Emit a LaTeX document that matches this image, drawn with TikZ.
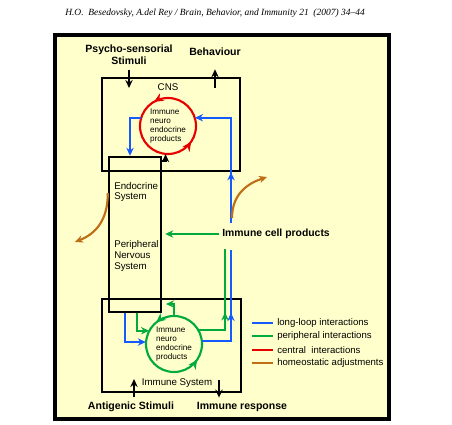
\documentclass[tikz,border=0pt]{standalone}
\usepackage{fontspec}
\setmainfont{Liberation Sans}
\newfontfamily\journalfont{Liberation Serif}
\usetikzlibrary{arrows.meta,positioning,decorations.markings}
\definecolor{paper}{RGB}{255,255,204}
\definecolor{loopblue}{RGB}{20,90,255}
\definecolor{periphgreen}{RGB}{0,170,60}
\definecolor{centralred}{RGB}{230,0,0}
\definecolor{homeobrown}{RGB}{190,110,20}

\begin{document}
\begin{tikzpicture}[x=0.75pt, y=-0.75pt, >={Stealth[length=6pt,width=5.5pt]},
    every node/.style={font=\fontsize{7.3}{8}\selectfont}]

    % Styles for boxes, product circles and the four kinds of interaction
    \tikzset{
        systembox/.style={draw=black, line width=1.8pt, inner sep=0pt},
        productcircle/.style={circle, minimum size=42pt, inner sep=0pt, align=left,
            font=\fontsize{6.1}{6.8}\selectfont},
        ring/.style={line width=1.6pt, postaction={decorate}, decoration={markings,
            mark=at position #1 with {\arrow{Stealth[length=7pt,width=6.5pt]}},
            mark=at position 0.905 with {\arrow{Stealth[length=7pt,width=6.5pt]}}}},
        stimulus/.style={font=\bfseries\fontsize{7.9}{9}\selectfont, align=center},
        stimarrow/.style={->, black, line width=1.6pt},
        longloop/.style={loopblue, line width=1.6pt},
        peripheral/.style={periphgreen, line width=1.6pt},
        homeostatic/.style={homeobrown, line width=1.6pt},
        midarrow/.style={postaction={decorate}, decoration={markings, mark=at position #1 with {\arrow{>}}}},
        legendtext/.style={font=\fontsize{7.2}{8}\selectfont, anchor=west, inner sep=0pt}
    }

    \useasboundingbox (0,0) rectangle (452,424);

    % Journal line and page frame
    \node[font=\journalfont\itshape\fontsize{7.1}{8}\selectfont] (journal) at (215,13)
        {H.O.\ \ Besedovsky, A.del Rey / Brain, Behavior, and Immunity 21\ \ (2007) 34–44};
    \draw[fill=paper, line width=2.4pt] (55,35) rectangle (389,419);

    % Systems
    \node[systembox, minimum width=103.5pt, minimum height=69.75pt] (cns) at (171,124.5) {};
    \node (cnslabel) at (168,87) {CNS};
    \node[systembox, minimum width=39pt, minimum height=116.25pt] (ens) at (135,234.5) {};
    \node[systembox, minimum width=104.25pt, minimum height=69.75pt] (immune) at (171.5,345.5) {};
    \node (islabel) at (177,383) {Immune System};
    \node[align=left, anchor=west, inner sep=0pt] (endolabel) at (114,192) {Endocrine\\System};
    \node[align=left, anchor=west, inner sep=0pt] (pnslabel) at (114,256) {Peripheral\\Nervous\\System};

    % Immune neuro endocrine products
    \node[productcircle] (cnsproducts) at (168,126) {Immune\\neuro\\endocrine\\products};
    \node[productcircle] (isproducts) at (174,344) {Immune\\neuro\\endocrine\\products};
    \draw[centralred, ring=0.333] (cnsproducts.center) circle[radius=21pt];
    \draw[periphgreen, ring=0.36] (isproducts.center) circle[radius=21pt];

    % Inputs and outputs
    \node[stimulus] (psycho) at (129,55) {Psycho-sensorial\\Stimuli};
    \node[stimulus] (behaviour) at (215,52) {Behaviour};
    \node[stimulus] (antigenic) at (131,407) {Antigenic Stimuli};
    \node[stimulus] (response) at (242,407) {Immune response};
    \node[font=\bfseries\fontsize{7.8}{9}\selectfont, anchor=west, inner sep=2.25pt] (cellproducts) at (219,234)
        {Immune cell products};

    \coordinate (psychotip) at (129,88);
    \coordinate (behavbase) at (215,88);
    \coordinate (antigentip) at (134,379);
    \coordinate (responsebase) at (219,380);
    \draw[stimarrow] (psycho.south) -- (psychotip);
    \draw[stimarrow, shorten >=6.5pt] (behavbase) -- (behaviour.south);
    \draw[stimarrow] (antigentip |- antigenic.north) -- (antigentip);
    \draw[stimarrow] (responsebase) -- (responsebase |- response.north);

    % Long-loop interactions
    \coordinate (loopup) at (231,223);
    \coordinate (loopdown) at (231,250);
    \draw[longloop, ->, midarrow=38pt] (loopup) |- (cnsproducts.17);
    \draw[longloop, ->] (cnsproducts.163) -| ([xshift=-3.75pt]ens.north);
    \draw[longloop, ->] ([xshift=-7.5pt]ens.south) |- (isproducts.176);
    \draw[longloop, midarrow=42.75pt] (isproducts.6) -| (loopdown);

    % Peripheral interactions
    \coordinate (periphdown) at (225,249);
    \coordinate (hooktip) at (166,304);
    \draw[peripheral, ->, shorten >=2.25pt] (cellproducts.west) -- (cellproducts.west -| ens.east);
    \draw[peripheral, ->] ([xshift=1.5pt]ens.south) |- (isproducts.152);
    \draw[peripheral, ->] (isproducts.north) |- (hooktip);
    \draw[peripheral, midarrow=33pt] (isproducts.30) -| (periphdown);

    % Ens to central products
    \draw[stimarrow] ([yshift=-3.75pt]ens.north east) -| (cnsproducts.265);

    % Homeostatic adjustments
    \coordinate (homeostart) at (232,218);
    \coordinate (homeoleft) at (75,242);
    \coordinate (homeoright) at (267,177);
    \draw[homeostatic, ->] ([yshift=31pt]ens.west) .. controls +(0,28) and +(20,-8) .. (homeoleft);
    \draw[homeostatic, ->] (homeostart) .. controls +(0,-25) and +(-18,6) .. (homeoright);

    % Legend
    \node[legendtext] (legloop) at (277,323) {long-loop interactions};
    \node[legendtext] (legperiph) at (277,336) {peripheral interactions};
    \node[legendtext] (legcentral) at (277,350) {central\ \ interactions};
    \node[legendtext] (leghomeo) at (277,363) {homeostatic adjustments};
    \draw[longloop] ([xshift=-3pt]legloop.west) -- ++(-15.75pt,0pt);
    \draw[peripheral] ([xshift=-3pt]legperiph.west) -- ++(-15.75pt,0pt);
    \draw[centralred, line width=1.6pt] ([xshift=-3pt]legcentral.west) -- ++(-15.75pt,0pt);
    \draw[homeostatic] ([xshift=-3pt]leghomeo.west) -- ++(-15.75pt,0pt);

\end{tikzpicture}
\end{document}
